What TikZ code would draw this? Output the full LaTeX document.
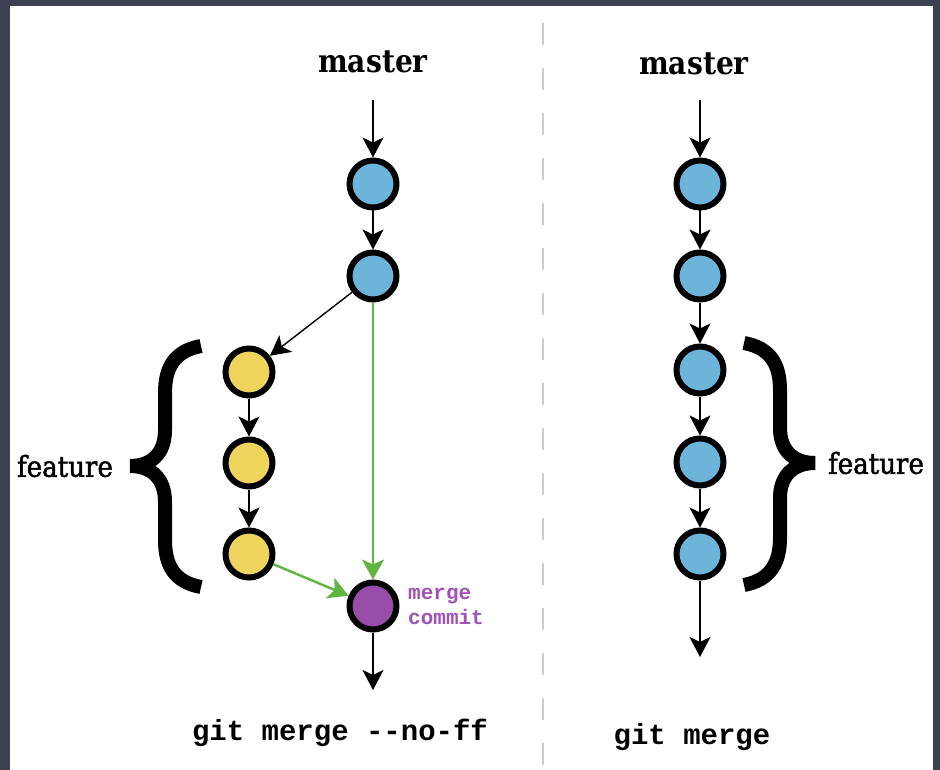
\documentclass[tikz,border=0pt]{standalone}
\usepackage{fontspec}
\newfontfamily\slabfont{DejaVu Serif}[FakeStretch=0.88]
\newfontfamily\slabmedium{DejaVu Serif}[FakeStretch=0.9,FakeBold=1.6]
\newfontfamily\codefont{Liberation Mono}
\usetikzlibrary{arrows.meta}

\definecolor{bgdark}{RGB}{60,64,80}
\definecolor{divgray}{RGB}{204,204,204}
\definecolor{commitblue}{RGB}{108,180,218}
\definecolor{commityellow}{RGB}{238,212,92}
\definecolor{commitpurple}{RGB}{152,78,168}
\definecolor{notepurple}{RGB}{160,82,184}
\definecolor{mergegreen}{RGB}{96,180,64}

\tikzset{
  commit/.style={circle,draw=black,line width=6pt,minimum size=47pt,inner sep=0pt},
  mastercommit/.style={commit,fill=commitblue},
  featcommit/.style={commit,fill=commityellow},
  mergecommit/.style={commit,fill=commitpurple},
  arr/.style={-{Stealth[length=20pt,width=21pt,inset=5pt]},line width=2pt},
  thinarr/.style={-{Stealth[length=20pt,width=21pt,inset=5pt]},line width=1.4pt},
  greenarr/.style={-{Stealth[length=20pt,width=22pt,inset=5pt]},line width=2.4pt,draw=mergegreen,fill=mergegreen},
  branchname/.style={font=\slabfont\bfseries\fontsize{32}{38}\selectfont},
  groupname/.style={font=\slabmedium\fontsize{29}{35}\selectfont},
  cmd/.style={font=\codefont\bfseries\fontsize{29}{34}\selectfont},
  mergenote/.style={font=\codefont\bfseries\fontsize{21}{25}\selectfont,text=notepurple,align=left,inner sep=0pt},
  brace/.style={line width=14pt}
}

\begin{document}
\begin{tikzpicture}[x=1pt,y=-1pt]
    \fill[bgdark] (0,0) rectangle (940,770);
    \fill[white] (10,6) rectangle (933,770);
    \useasboundingbox (0,0) rectangle (940,770);
    \draw[divgray,line width=2pt,dash pattern=on 22pt off 23pt] (543,23) -- (543,766);

    % git merge --no-ff
    \node[branchname] (mastL) at (373,62) {master};
    \coordinate (inL) at (373,100);
    \node[mastercommit] (l1) at (373,184) {};
    \node[mastercommit] (l2) at (373,276) {};
    \node[featcommit] (f1) at (249,372) {};
    \node[featcommit] (f2) at (249,463) {};
    \node[featcommit] (f3) at (249,554) {};
    \node[mergecommit] (mc) at (373,606) {};
    \coordinate (outL) at (373,690);
    \node[mergenote,anchor=west] (mnote) at (408,606) {merge\\commit};

    \draw[arr] (inL) -- (l1);
    \draw[arr] (l1) -- (l2);
    \draw[thinarr] (l2) -- (f1);
    \draw[arr] (f1) -- (f2);
    \draw[arr] (f2) -- (f3);
    \draw[greenarr] (l2) -- (mc);
    \draw[greenarr] (f3) -- (mc);
    \draw[arr] (mc) -- (outL);

    \draw[brace] (201,346) .. controls (174,351) and (165,368) .. (165,393) -- (165,430)
        .. controls (165,455) and (150,466) .. (130,466)
        .. controls (150,466) and (165,477) .. (165,502) -- (165,540)
        .. controls (165,565) and (174,582) .. (201,587);
    \node[groupname] (featL) at (65,466) {feature};
    \node[cmd] (cmdL) at (340,733) {git merge -{}-no-ff};

    % git merge
    \node[branchname] (mastR) at (694,64) {master};
    \coordinate (inR) at (700,100);
    \foreach \n/\y in {1/184,2/276,3/370,4/462,5/554}
        \node[mastercommit] (r\n) at (700,\y) {};
    \coordinate (outR) at (700,657);

    \draw[arr] (inR) -- (r1);
    \foreach \a/\b in {1/2,2/3,3/4,4/5}
        \draw[arr] (r\a) -- (r\b);
    \draw[arr] (r5) -- (outR);

    \draw[brace] (744,343) .. controls (771,348) and (780,365) .. (780,390) -- (780,428)
        .. controls (780,452) and (795,463) .. (815,463)
        .. controls (795,463) and (780,474) .. (780,498) -- (780,538)
        .. controls (780,562) and (771,580) .. (744,585);
    \node[groupname] (featR) at (876,463) {feature};
    \node[cmd] (cmdR) at (692,737) {git merge};
\end{tikzpicture}
\end{document}
